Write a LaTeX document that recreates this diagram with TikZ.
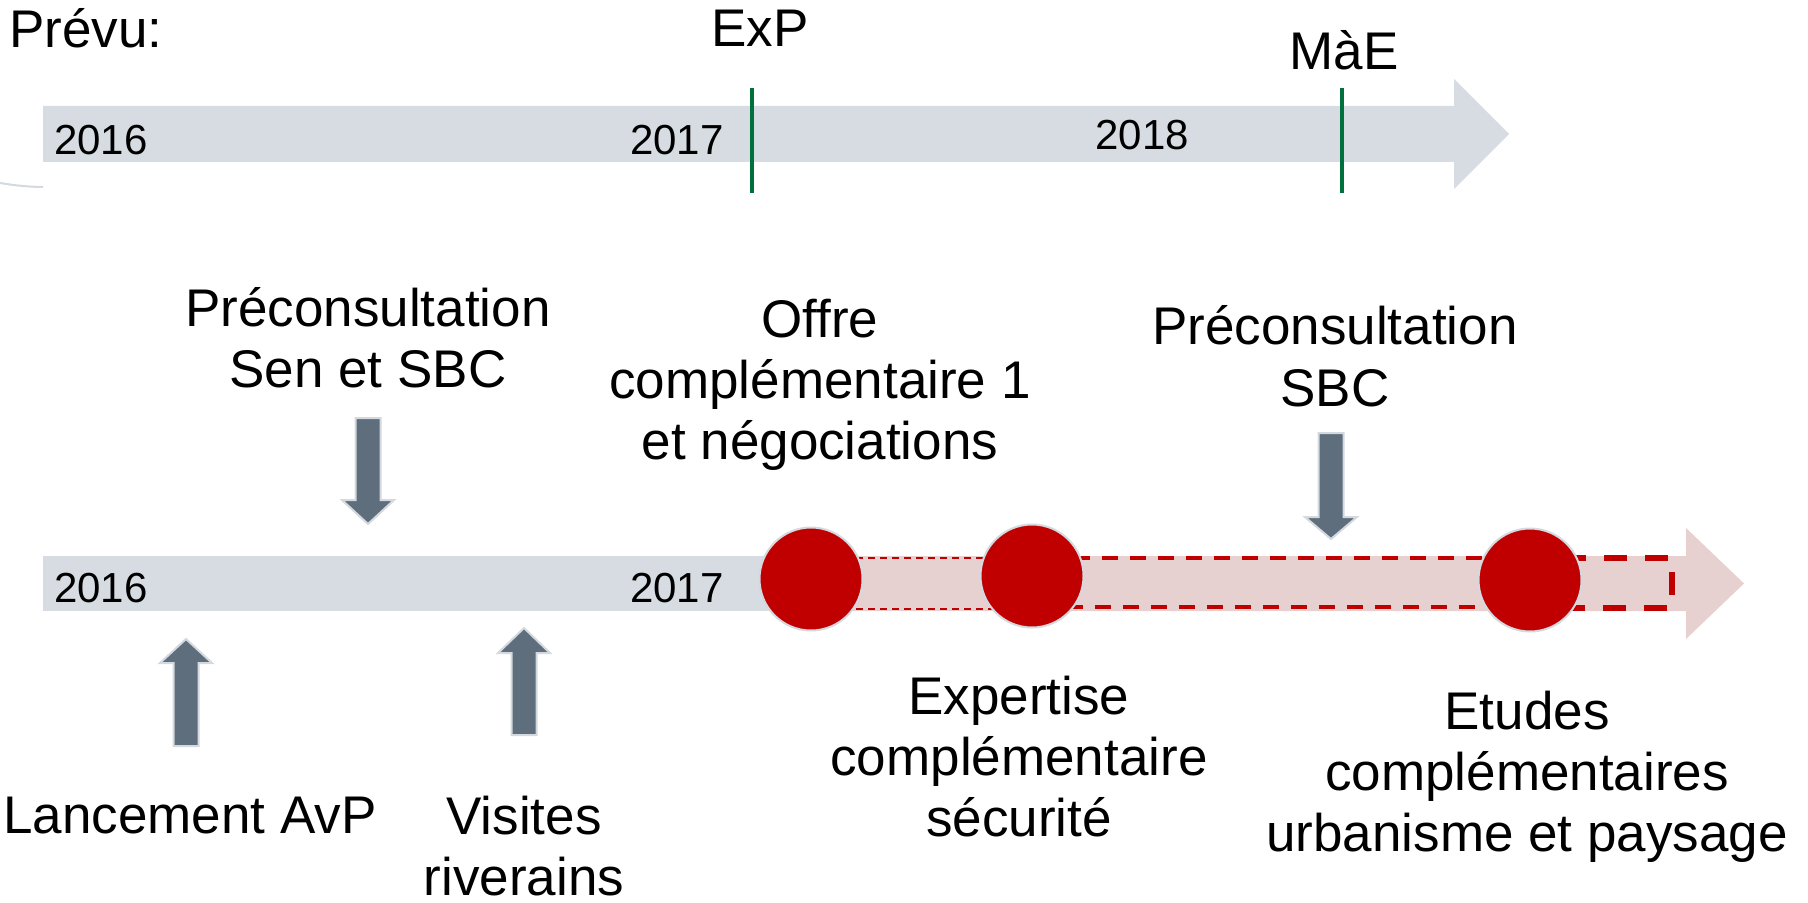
\documentclass[tikz,border=0pt]{standalone}
\usepackage{fontspec}
\setmainfont{Liberation Sans}
\definecolor{bargray}{HTML}{D6DCE1}
\definecolor{barpink}{HTML}{E7D0D0}
\definecolor{reddot}{HTML}{C00000}
\definecolor{arrgray}{HTML}{5E6E7C}
\definecolor{arrrim}{HTML}{D3D9DE}
\definecolor{msgreen}{RGB}{0,112,60}
% block arrow: x, shaft end, head start, tip
\newcommand{\blkarrow}[4]{%
  \draw[blkarr] ({#1-12.5},#2) -- ({#1+12.5},#2) -- ({#1+12.5},#3) -- ({#1+26},#3)
    -- (#1,#4) -- ({#1-26},#3) -- ({#1-12.5},#3) -- cycle;}
\begin{document}
\begin{tikzpicture}[x=0.5pt,y=-0.5pt,
  big/.style={font=\fontsize{26.5}{30.5}\selectfont, inner sep=0pt, align=center, anchor=base},
  year/.style={font=\fontsize{21}{25}\selectfont, inner sep=0pt, anchor=base},
  milestone/.style={draw=msgreen, line width=2.4pt},
  dot/.style={circle, fill=reddot, draw=arrrim, line width=1pt, minimum size=51.5pt, inner sep=0pt},
  blkarr/.style={fill=arrgray, draw=arrrim, line width=1pt}]
\useasboundingbox (0,0) rectangle (1808,903);

% planned timeline
\fill[bargray] (43,106) -- (1454,106) -- (1454,79) -- (1509,134) -- (1454,189) -- (1454,162) -- (43,162) -- cycle;
\draw[arrrim, line width=1pt] (0,183) .. controls (15,185.5) and (30,187) .. (43,187);
\draw[milestone] (752,88) -- (752,193);
\draw[milestone] (1342,88) -- (1342,193);
\node[big, anchor=base west] (prevu) at (9,48) {Prévu:};
\node[big] (lblExP) at (760,47) {ExP};
\node[big] (lblMaE) at (1344,70) {MàE};
\node[year] (y16a) at (101,155) {2016};
\node[year] (y17a) at (677,155) {2017};
\node[year] (y18a) at (1142,150) {2018};

% actual timeline
\fill[bargray] (43,556) rectangle (811,611);
\fill[barpink] (811,556) -- (1686,556) -- (1686,528) -- (1744,583.5) -- (1686,639) -- (1686,611) -- (811,611) -- cycle;
\draw[reddot, line width=1.25pt, dash pattern=on 3.5pt off 2.5pt] (811,558) rectangle (1032,609);
\draw[reddot, line width=2pt, dash pattern=on 8pt off 6pt] (1032,558) rectangle (1530,607);
\draw[reddot, line width=3pt, dash pattern=on 11.5pt off 9pt] (1530,558) rectangle (1672,608);
\node[dot] (c1) at (811,579) {};
\node[dot] (c2) at (1032,576) {};
\node[dot] (c3) at (1530,580) {};
\node[year] (y16b) at (101,602) {2016};
\node[year] (y17b) at (677,602) {2017};

\blkarrow{368}{418}{500}{524}
\blkarrow{1331}{433}{517}{539}
\blkarrow{186}{746}{663}{639}
\blkarrow{524}{735}{653}{628}

% multi-line nodes: base = last line
\node[big] (preSen) at (368,387) {Préconsultation\\Sen et SBC};
\node[big] (offre) at (820,459) {Offre\\complémentaire 1\\et négociations};
\node[big] (preSBC) at (1335,406) {Préconsultation\\SBC};
\node[big] (lanc) at (190,833) {Lancement AvP};
\node[big] (visites) at (524,895) {Visites\\riverains};
\node[big] (expert) at (1019,836) {Expertise\\complémentaire\\sécurité};
\node[big] (etudes) at (1527,851) {Etudes\\complémentaires\\urbanisme et paysage};
\end{tikzpicture}
\end{document}
